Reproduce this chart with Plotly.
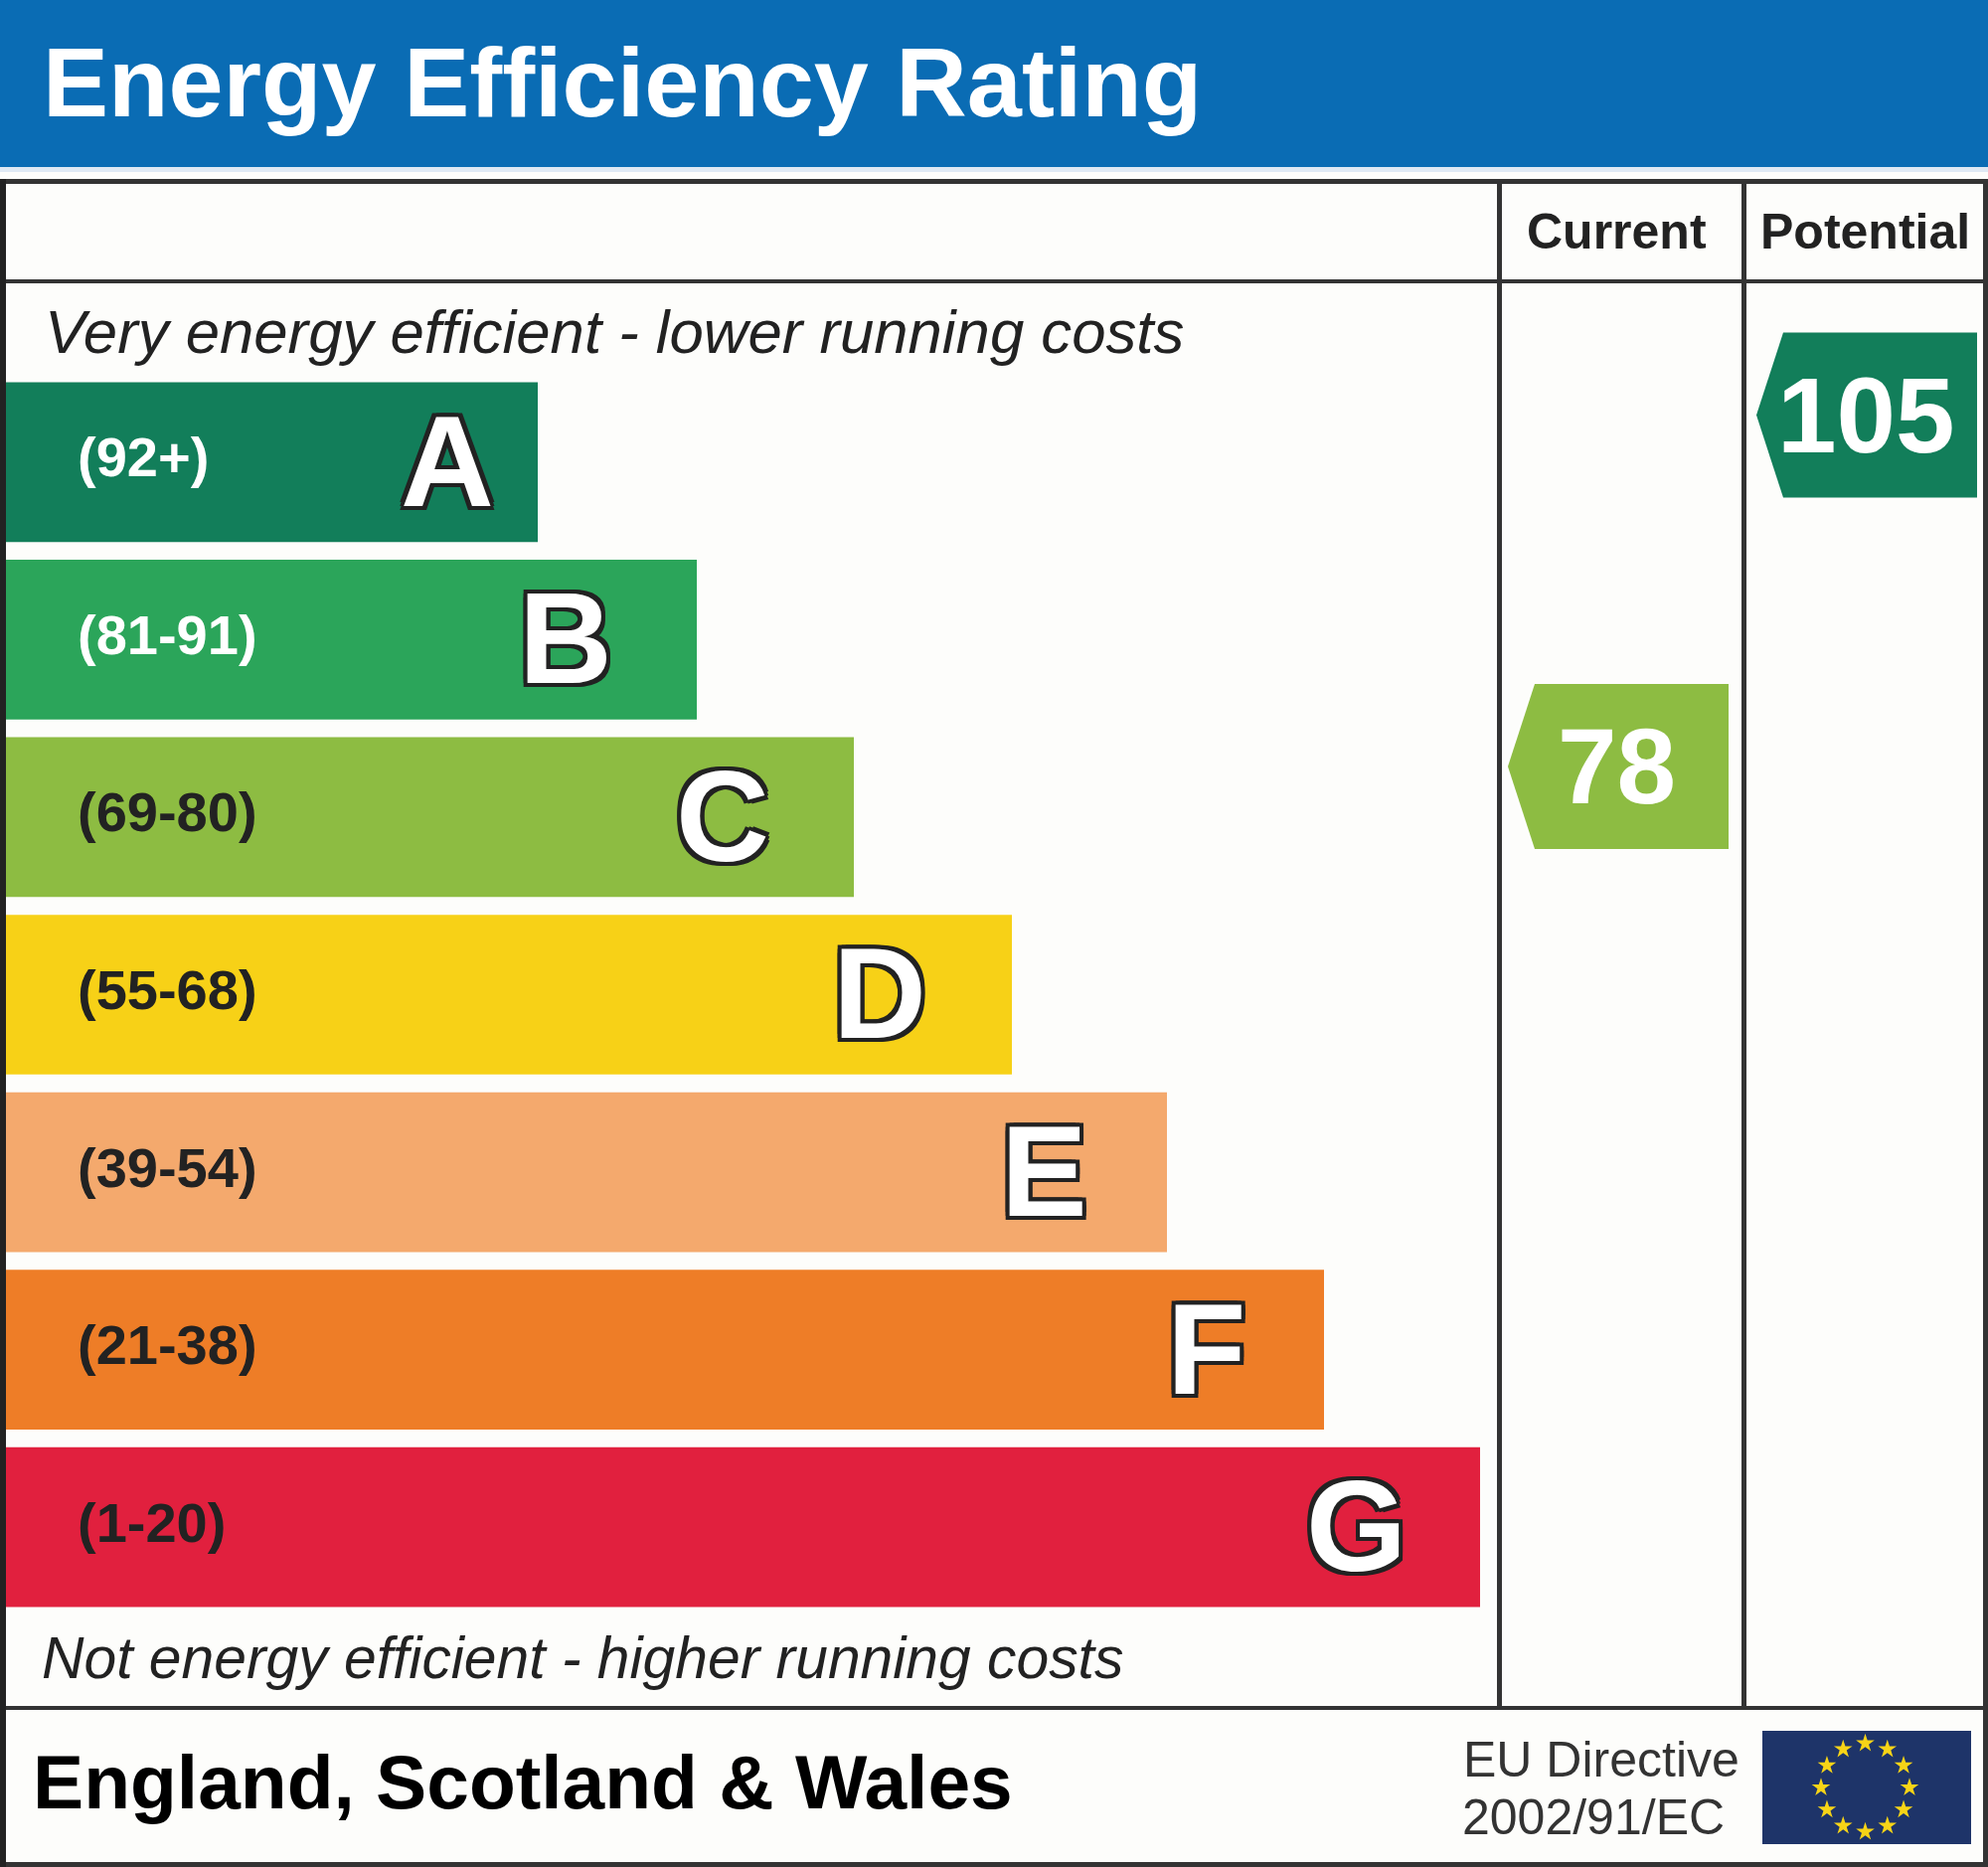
import plotly.graph_objects as go

bands = ["A", "B", "C", "D", "E", "F", "G"]
ranges = ["(92+)", "(81-91)", "(69-80)", "(55-68)", "(39-54)", "(21-38)", "(1-20)"]
bar_lengths = [535, 695, 853, 1012, 1168, 1326, 1483]
band_colors = ["#127e5a", "#2ba55a", "#8dbc42", "#f7d117", "#f4a96d", "#ee7d27", "#e1203e"]
range_colors = ["#ffffff", "#ffffff", "#222222", "#222222", "#222222", "#222222", "#222222"]
letter_insets = [91, 132, 132, 133, 124, 119, 125]

columns = ["Current", "Potential"]
scores = [78, 105]
score_colors = ["#8dbc42", "#127e5a"]
star_hours = [0, 1, 2, 3, 4, 5, 6, 7, 8, 9, 10, 11]

W, H = 2000, 1878
FONT = "Liberation Sans"
LINE = "#333333"

# pixel columns of the two score arrows: tip, shoulder, right, label centre
arrow_cols = [(1517, 1544, 1739, 1626), (1767, 1794, 1989, 1877)]
SCORE_HALF = 6.34
OUTLINE = ",".join(f"{a}px {b}px 0 #222222" for a in (-4, 0, 4) for b in (-4, 0, 4) if a or b)

fig = go.Figure()

fig.add_trace(go.Bar(
    y=bands, x=bar_lengths, orientation="h", width=0.9,
    marker=dict(color=band_colors, line=dict(width=0)),
    xaxis="x", yaxis="y", hoverinfo="skip", showlegend=False,
))

for score, color, (tip, shoulder, right, _) in zip(scores, score_colors, arrow_cols):
    fig.add_trace(go.Scatter(
        x=[tip, shoulder, right, right, shoulder, tip],
        y=[score, score + SCORE_HALF, score + SCORE_HALF, score - SCORE_HALF, score - SCORE_HALF, score],
        mode="lines", fill="toself", fillcolor=color, line=dict(width=0),
        xaxis="x2", yaxis="y2", hoverinfo="skip", showlegend=False,
    ))

# flag stars, placed by clock hour on a small polar plot
fig.add_trace(go.Scatterpolar(
    r=[1] * len(star_hours), theta=[h * 30 for h in star_hours],
    mode="markers", marker=dict(symbol="star", size=14, color="#f7d417", line=dict(width=0)),
    subplot="polar", hoverinfo="skip", showlegend=False,
))
# pixel-scale subplot carrying the frame
fig.add_trace(go.Scatter(x=[0], y=[0], mode="markers", marker=dict(opacity=0), xaxis="x2", yaxis="y3",
                         hoverinfo="skip", showlegend=False))


def rect(x0, y0, x1, y1, color):
    fig.add_shape(type="rect", xref="x2", yref="y3", x0=x0, y0=y0, x1=x1, y1=y1,
                  fillcolor=color, line=dict(width=0), layer="below")


def text(x, y, s, size, color="#222222", xanchor="left", xref="x2", yref="y3", yshift=0, **font):
    fig.add_annotation(x=x, y=y, text=s, xref=xref, yref=yref, xanchor=xanchor, yanchor="middle",
                       yshift=yshift, showarrow=False,
                       font=dict(family=FONT, size=size, color=color, **font))


rect(0, 0, W, 168, "#0a6cb4")
rect(0, 168, W, 173, "#dfe9f4")
rect(0, 180, W, 185, LINE)
rect(0, 281, W, 285, LINE)
rect(0, 1716, W, 1720, LINE)
rect(0, 1873, W, H, LINE)
rect(0, 180, 6, H, "#222222")
rect(1995, 180, W, H, LINE)
rect(1506, 180, 1511, 1718, LINE)
rect(1752, 180, 1757, 1718, LINE)
rect(1773, 1741, 1983, 1855, "#1e3469")

text(41, 82, "Energy Efficiency Rating", 99, color="#ffffff", weight="bold")
text(1626, 233, columns[0], 50, xanchor="center", weight="bold")
text(1876, 233, columns[1], 50, xanchor="center", weight="bold")
text(43, 333, "Very energy efficient - lower running costs", 61.7, style="italic")
text(40, 1667, "Not energy efficient - higher running costs", 58.8, style="italic")
text(31, 1792, "England, Scotland &amp; Wales", 76.7, color="#000000", weight="bold")
text(1470, 1770, "EU Directive", 50, color="#333333")
text(1469, 1828, "2002/91/EC", 50, color="#333333")

for band, label, color, length, inset in zip(bands, ranges, range_colors, bar_lengths, letter_insets):
    text(76, band, label, 56, color=color, yref="y", yshift=5, weight="bold")
    text(length - inset, band, band, 130, color="#ffffff", xanchor="center", xref="x", yref="y",
         yshift=1, weight="bold", shadow=OUTLINE)

for score, (_, _, _, centre) in zip(scores, arrow_cols):
    text(centre, score, str(score), 107, color="#ffffff", xanchor="center", yref="y2", weight="bold")

fig.update_layout(
    width=W, height=H, margin=dict(l=0, r=0, t=0, b=0),
    paper_bgcolor="#fdfdfb", plot_bgcolor="rgba(0,0,0,0)",
    xaxis=dict(range=[-6, W - 6], domain=[0, 1], visible=False, fixedrange=True),
    yaxis=dict(type="category", categoryorder="array", categoryarray=bands, range=[6.5, -0.5],
               domain=[1 - 1625.4 / H, 1 - 375.6 / H], visible=False, fixedrange=True),
    xaxis2=dict(range=[0, W], domain=[0, 1], visible=False, fixedrange=True, anchor="y3"),
    yaxis2=dict(range=[-6.57, 136.9], domain=[0, 1], visible=False, fixedrange=True, anchor="x2"),
    yaxis3=dict(range=[H, 0], domain=[0, 1], visible=False, fixedrange=True, anchor="x2"),
    polar=dict(
        domain=dict(x=[1832 / W, 1921 / W], y=[1 - 1843 / H, 1 - 1753 / H]),
        bgcolor="rgba(0,0,0,0)",
        radialaxis=dict(visible=False, range=[0, 1]),
        angularaxis=dict(visible=False, rotation=90, direction="clockwise"),
    ),
)

fig.write_html("out.html", config=dict(displayModeBar=False),
               post_script="document.body.style.margin='0';")
